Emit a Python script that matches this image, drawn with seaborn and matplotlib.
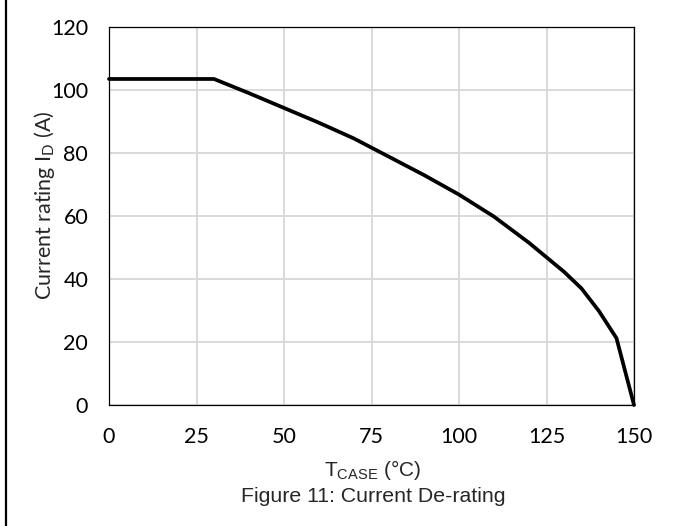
import matplotlib
matplotlib.use("Agg")
import matplotlib.pyplot as plt
from matplotlib.lines import Line2D
import seaborn as sns
import pandas as pd

# Case temperature (°C) and maximum continuous drain current (A)
case_temp = [0, 30, 40, 50, 60, 70, 80, 90, 100, 110, 120, 130, 135, 140, 145, 150]
current_rating = [103.5, 103.5, 99.0, 94.3, 89.6, 84.6, 78.8, 73.0, 66.8, 59.8,
                  51.5, 42.3, 37.0, 29.8, 21.2, 0.0]
x_ticks = [0, 25, 50, 75, 100, 125, 150]
y_ticks = [0, 20, 40, 60, 80, 100, 120]

sns.set_style("white")
plt.rcParams["font.family"] = ["Lato", "DejaVu Sans"]

W, H = 700, 526
fig = plt.figure(figsize=(W / 100, H / 100), dpi=100)
ax = fig.add_axes([109 / W, 1 - 405 / H, 525 / W, 378 / H])

df = pd.DataFrame({"T": case_temp, "I": current_rating})
sns.lineplot(data=df, x="T", y="I", ax=ax, color="black", linewidth=2.7,
             clip_on=False, zorder=3)

ax.set_xlim(0, 150)
ax.set_ylim(0, 120)
ax.set_xticks(x_ticks)
ax.set_yticks(y_ticks)
ax.set_xlabel("")
ax.set_ylabel("")
ax.grid(True, color="#d9d9d9", linewidth=1.4)
ax.set_axisbelow(True)
for s in ax.spines.values():
    s.set_visible(True)
    s.set_color("black")
    s.set_linewidth(0.9)
ax.tick_params(length=0, labelsize=15.5, colors="black")
ax.tick_params(axis="y", pad=15)
ax.tick_params(axis="x", pad=16)

fig.text(45 / W, 1 - 205 / H, r"Current rating I$_\mathregular{D}$ (A)",
         rotation=90, ha="center", va="center", fontsize=15.5)
fig.text(373 / W, 1 - 470 / H, r"T$_\mathregular{CASE}$ (°C)",
         ha="center", va="center", fontsize=15, family="Liberation Sans")
fig.text(373 / W, 1 - 497 / H, "Figure 11: Current De-rating",
         ha="center", va="center", fontsize=15.3, family="Liberation Sans")

# Left frame rule
fig.add_artist(Line2D([5.5 / W, 5.5 / W], [0, 1], color="black", linewidth=1.6,
                      transform=fig.transFigure))

fig.savefig("out.png", dpi=100)
